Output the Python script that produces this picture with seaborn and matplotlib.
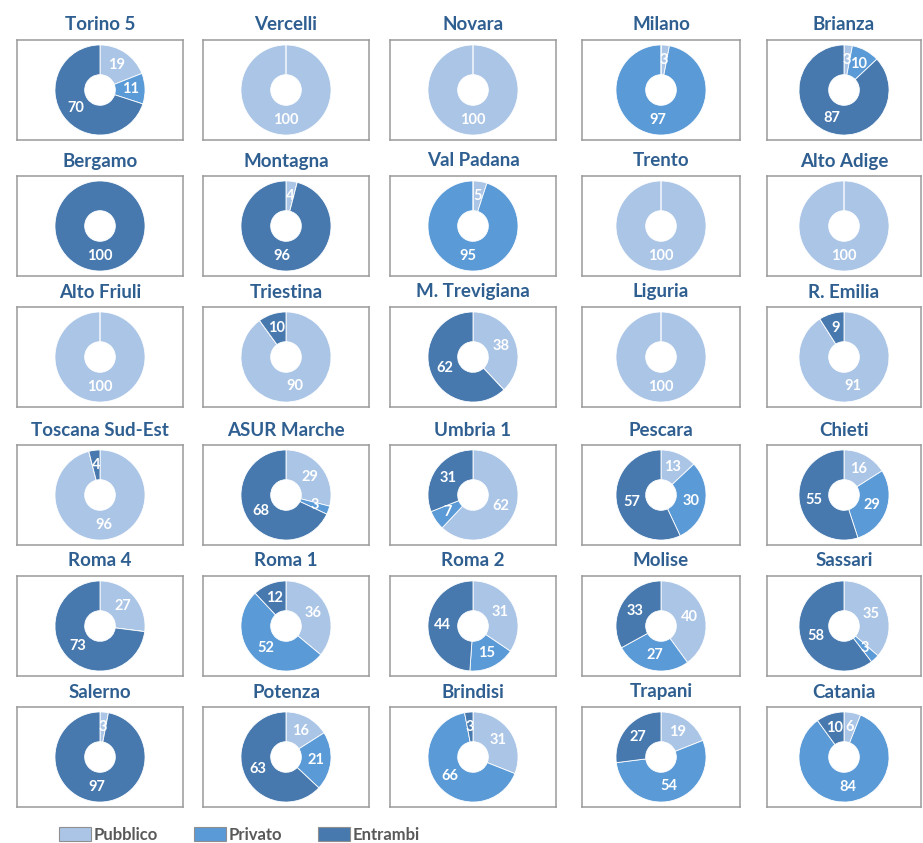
import matplotlib
matplotlib.use("Agg")
import matplotlib.pyplot as plt
from matplotlib.patches import Patch
import numpy as np
import seaborn as sns

# DATA (percentuali per ASL)
aree = ["Torino 5", "Vercelli", "Novara", "Milano", "Brianza",
        "Bergamo", "Montagna", "Val Padana", "Trento", "Alto Adige",
        "Alto Friuli", "Triestina", "M. Trevigiana", "Liguria", "R. Emilia",
        "Toscana Sud-Est", "ASUR Marche", "Umbria 1", "Pescara", "Chieti",
        "Roma 4", "Roma 1", "Roma 2", "Molise", "Sassari",
        "Salerno", "Potenza", "Brindisi", "Trapani", "Catania"]
pubblico = [19, 100, 100, 3, 3,
            0, 4, 5, 100, 100,
            100, 90, 38, 100, 91,
            96, 29, 62, 13, 16,
            27, 36, 31, 40, 35,
            3, 16, 31, 19, 6]
privato = [11, 0, 0, 97, 10,
           0, 0, 95, 0, 0,
           0, 0, 0, 0, 0,
           0, 3, 7, 30, 29,
           0, 52, 15, 27, 3,
           0, 21, 66, 54, 84]
entrambi = [70, 0, 0, 0, 87,
            100, 96, 0, 0, 0,
            0, 10, 62, 0, 9,
            4, 68, 31, 57, 55,
            73, 12, 44, 33, 58,
            97, 63, 3, 27, 10]
serie = ["Pubblico", "Privato", "Entrambi"]

sns.set_theme(style="white")
plt.rcParams["font.family"] = ["Lato", "DejaVu Sans"]
colori = ["#abc5e6", "#5a9ad6", "#4779ae"]
titolo_col = "#2f5f91"

W, H = 923, 843
fig = plt.figure(figsize=(W / 100, H / 100), dpi=100)

# box layout in pixels
col_x = [17, 203, 390, 582, 767]
col_w = [166, 166, 166, 158, 154]
row_y = [40, 176, 307, 445, 576, 707]
box_h = 100
hole = 0.34
r_lab = (1 + hole) / 2

for i, nome in enumerate(aree):
    r, c = divmod(i, 5)
    x0, w, y0 = col_x[c], col_w[c], row_y[r]
    ax = fig.add_axes([x0 / W, 1 - (y0 + box_h) / H, w / W, box_h / H])
    vals = [pubblico[i], privato[i], entrambi[i]]
    wedges, _ = ax.pie(vals, colors=colori, startangle=90, counterclock=False,
                       wedgeprops=dict(width=1 - hole, edgecolor="white", linewidth=0.6))
    for wd, v in zip(wedges, vals):
        if v == 0:
            continue
        ang = np.deg2rad((wd.theta1 + wd.theta2) / 2)
        ax.text(r_lab * np.cos(ang), r_lab * np.sin(ang), str(v), color="white",
                fontsize=10.5, fontweight="bold", ha="center", va="center")
    ax.set_aspect("auto")
    yl = 1.11
    ax.set_ylim(-yl, yl)
    ax.set_xlim(-yl * w / box_h, yl * w / box_h)
    ax.set_frame_on(True)
    ax.set_xticks([])
    ax.set_yticks([])
    for sp in ax.spines.values():
        sp.set_visible(True)
        sp.set_color("#9a9a9a")
        sp.set_linewidth(1.1)
    fig.text((x0 + w / 2) / W, 1 - (y0 - 15) / H, nome, ha="center", va="center",
             fontsize=13.5, fontweight="bold", color=titolo_col)

handles = [Patch(facecolor=col, edgecolor="#8f8f8f", linewidth=0.8) for col in colori]
fig.legend(handles, serie, loc="center left", bbox_to_anchor=(44 / W, 1 - 835 / H),
           ncol=3, frameon=False, columnspacing=2.2, handlelength=1.9, handleheight=0.9,
           handletextpad=0.15, prop=dict(size=12, weight="bold"), labelcolor="#595959")

fig.savefig("out.png", dpi=100)
